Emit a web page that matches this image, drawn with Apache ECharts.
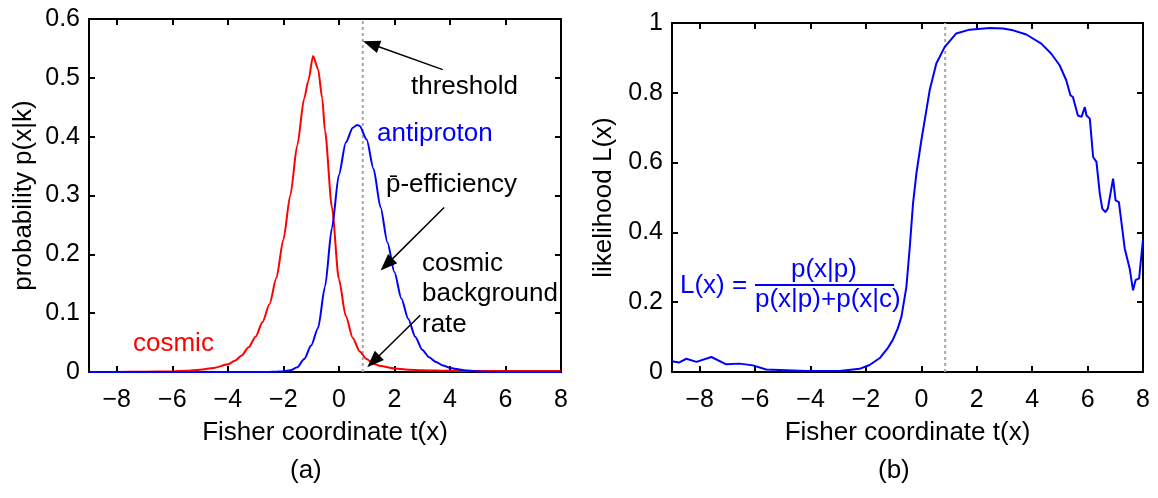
<!DOCTYPE html>
<html>
<head>
<meta charset="utf-8">
<title>Fisher coordinate distributions and likelihood</title>
<script src="https://cdn.jsdelivr.net/npm/echarts@6.0.0/dist/echarts.min.js"></script>
<style>
  html, body { margin: 0; padding: 0; background: #ffffff; }
  #chart { width: 1158px; height: 498px; }
</style>
</head>
<body>
<div id="chart"></div>
<script>
// Panel (a): probability densities p(x|k) versus the Fisher coordinate
const cosmicT = [-9, -8, -7, -6, -5.5, -5, -4.5, -4, -3.75, -3.5, -3.25, -3, -2.75, -2.5, -2.25, -2, -1.75, -1.5, -1.25, -1.1, -0.93, -0.75, -0.6, -0.5, -0.25, 0, 0.25, 0.5, 0.75, 1, 1.25, 1.5, 2, 2.5, 3, 4, 5, 6, 7, 8];
const cosmicP = [0, 0, 0.0005, 0.001, 0.002, 0.004, 0.007, 0.013, 0.019, 0.028, 0.042, 0.06, 0.085, 0.115, 0.16, 0.225, 0.3, 0.385, 0.465, 0.495, 0.537, 0.515, 0.465, 0.41, 0.28, 0.158, 0.095, 0.058, 0.035, 0.022, 0.014, 0.01, 0.006, 0.004, 0.003, 0.002, 0.0015, 0.0015, 0.0015, 0.0015];

const antiT = [-9, -3, -2.5, -2.25, -2, -1.75, -1.5, -1.25, -1, -0.75, -0.5, -0.25, 0, 0.25, 0.5, 0.65, 0.75, 1, 1.25, 1.5, 1.75, 2, 2.25, 2.5, 2.75, 3, 3.25, 3.5, 3.75, 4, 4.5, 5, 5.5, 8];
const antiP = [0, 0, 0, 0.0005, 0.001, 0.003, 0.008, 0.022, 0.045, 0.075, 0.145, 0.245, 0.335, 0.39, 0.415, 0.42, 0.418, 0.395, 0.345, 0.28, 0.22, 0.17, 0.125, 0.09, 0.06, 0.038, 0.025, 0.017, 0.011, 0.007, 0.003, 0.001, 0, 0];

// Panel (b): likelihood L(x) = p(x|p) / (p(x|p) + p(x|c))
const likeT = [-9, -8.75, -8.48, -8.12, -7.58, -7.04, -6.56, -6.08, -5.6, -5.12, -4.15, -2.95, -2.23, -1.87, -1.5, -1.2, -1.03, -0.85, -0.72, -0.54, -0.42, -0.3, -0.18, 0, 0.12, 0.3, 0.54, 0.84, 1.26, 1.74, 2.47, 2.95, 3.31, 3.79, 4.33, 4.69, 4.99, 5.23, 5.38, 5.47, 5.65, 5.78, 5.9, 5.96, 6.08, 6.2, 6.32, 6.44, 6.53, 6.64, 6.73, 6.92, 7.01, 7.13, 7.34, 7.52, 7.64, 7.73, 7.86, 8];
const likeL = [0.031, 0.027, 0.038, 0.029, 0.043, 0.022, 0.024, 0.019, 0.007, 0.006, 0.003, 0.003, 0.009, 0.02, 0.04, 0.07, 0.092, 0.125, 0.158, 0.244, 0.356, 0.483, 0.568, 0.664, 0.721, 0.807, 0.884, 0.931, 0.97, 0.981, 0.986, 0.984, 0.979, 0.967, 0.941, 0.912, 0.879, 0.836, 0.793, 0.788, 0.735, 0.731, 0.759, 0.735, 0.726, 0.616, 0.602, 0.511, 0.468, 0.458, 0.468, 0.554, 0.492, 0.487, 0.354, 0.296, 0.234, 0.263, 0.268, 0.38];

// Selection cut on the Fisher coordinate
const thresholdT = 0.86;

// Axis ranges and tick labels
const xRange = [-9, 8];
const xTicks = [-8, -6, -4, -2, 0, 2, 4, 6, 8];
const probRange = [0, 0.6];
const likeRange = [0, 1];

const FONT = '"Liberation Sans", Arial, sans-serif';
const BLACK = '#000000';
const TXT = '26px ' + FONT;

function pairs(xs, ys) { return xs.map((x, i) => [x, ys[i]]); }
function fmtTick(v) { return v < 0 ? '\u2212' + Math.abs(v) : String(v); }

// bottom axis carries labels and title, top axis only closes the box with inward ticks
function xAxes(gridIndex) {
  const common = {
    type: 'value', gridIndex, min: xRange[0], max: xRange[1],
    axisLine: { show: true, onZero: false, lineStyle: { color: BLACK, width: 2 } },
    splitLine: { show: false }
  };
  return [
    Object.assign({}, common, {
      position: 'bottom',
      name: 'Fisher coordinate t(x)', nameLocation: 'middle', nameGap: 48,
      nameTextStyle: { fontFamily: FONT, fontSize: 26, color: BLACK },
      axisTick: { show: true, inside: true, length: 6, customValues: xTicks, lineStyle: { color: BLACK, width: 2 } },
      axisLabel: { show: true, customValues: xTicks, margin: 16, formatter: fmtTick, fontFamily: FONT, fontSize: 25, color: BLACK }
    }),
    Object.assign({}, common, {
      position: 'top',
      axisTick: { show: true, inside: true, length: 6, customValues: xTicks, lineStyle: { color: BLACK, width: 2 } },
      axisLabel: { show: false }
    })
  ];
}

// left axis carries labels and title, right axis only closes the box with inward ticks
function yAxes(gridIndex, range, interval, title, gap) {
  const common = {
    type: 'value', gridIndex, min: range[0], max: range[1], interval,
    axisLine: { show: true, onZero: false, lineStyle: { color: BLACK, width: 2 } },
    axisTick: { show: true, inside: true, length: 6, lineStyle: { color: BLACK, width: 2 } },
    splitLine: { show: false }
  };
  return [
    Object.assign({}, common, {
      position: 'left',
      name: title, nameLocation: 'middle', nameGap: gap,
      nameTextStyle: { fontFamily: FONT, fontSize: 26, color: BLACK },
      axisLabel: { show: true, margin: 9, fontFamily: FONT, fontSize: 25, color: BLACK,
        formatter: v => String(Math.round(v * 10) / 10) }
    }),
    Object.assign({}, common, { position: 'right', offset: 0, axisLabel: { show: false } })
  ];
}

// Annotation arrows in data coordinates of panel (a)
function arrow(from, to) {
  return [{ coord: from }, { coord: to }];
}

const chart = echarts.init(document.getElementById('chart'), null, { renderer: 'canvas' });

const option = {
  backgroundColor: '#ffffff',
  animation: false,
  grid: [
    { left: 89, top: 19, width: 472, height: 353, containLabel: false },
    { left: 672, top: 23, width: 471, height: 349, containLabel: false }
  ],
  xAxis: [...xAxes(0), ...xAxes(1)],
  yAxis: [...yAxes(0, probRange, 0.1, 'probability p(x|k)', 52), ...yAxes(1, likeRange, 0.2, 'likelihood L(x)', 55)],
  series: [
    {
      name: 'threshold-a', type: 'line', xAxisIndex: 0, yAxisIndex: 0,
      data: [[thresholdT, probRange[0]], [thresholdT, probRange[1]]],
      showSymbol: false, silent: true, z: 1,
      lineStyle: { color: '#a6a6a6', width: 2, type: [3, 3] },
      markLine: {
        silent: true, symbol: ['none', 'triangle'], symbolSize: [13, 17],
        label: { show: false },
        lineStyle: { color: BLACK, width: 1.5, type: 'solid' },
        itemStyle: { color: BLACK },
        data: [
          arrow([3.74, 0.514], [1.16, 0.5574]),
          arrow([3.79, 0.2796], [1.72, 0.1825]),
          arrow([2.93, 0.0964], [1.24, 0.018])
        ]
      }
    },
    {
      name: 'cosmic', type: 'line', xAxisIndex: 0, yAxisIndex: 0,
      data: pairs(cosmicT, cosmicP), showSymbol: false, smooth: 0.25, smoothMonotone: 'x',
      lineStyle: { color: '#ff0000', width: 2 }, itemStyle: { color: '#ff0000' }, z: 3
    },
    {
      name: 'antiproton', type: 'line', xAxisIndex: 0, yAxisIndex: 0,
      data: pairs(antiT, antiP), showSymbol: false, smooth: 0.25, smoothMonotone: 'x',
      lineStyle: { color: '#0000ff', width: 2 }, itemStyle: { color: '#0000ff' }, z: 4
    },
    {
      name: 'threshold-b', type: 'line', xAxisIndex: 2, yAxisIndex: 2,
      data: [[thresholdT, likeRange[0]], [thresholdT, likeRange[1]]],
      showSymbol: false, silent: true, z: 1,
      lineStyle: { color: '#a6a6a6', width: 2, type: [3, 3] }
    },
    {
      name: 'likelihood', type: 'line', xAxisIndex: 2, yAxisIndex: 2,
      data: pairs(likeT, likeL), showSymbol: false,
      lineStyle: { color: '#0000ff', width: 2 }, itemStyle: { color: '#0000ff' }, z: 4
    }
  ],
  graphic: [
    // panel (a) labels
    { type: 'text', left: 411, top: 74, style: { text: 'threshold', font: TXT, fill: BLACK } },
    { type: 'text', left: 377, top: 121, style: { text: 'antiproton', font: TXT, fill: '#0000ff' } },
    { type: 'text', left: 386, top: 172, style: { text: 'p\u0304-efficiency', font: TXT, fill: BLACK } },
    { type: 'text', left: 422, top: 251, style: { text: 'cosmic', font: TXT, fill: BLACK } },
    { type: 'text', left: 422, top: 281, style: { text: 'background', font: TXT, fill: BLACK } },
    { type: 'text', left: 422, top: 312, style: { text: 'rate', font: TXT, fill: BLACK } },
    { type: 'text', left: 133, top: 331, style: { text: 'cosmic', font: TXT, fill: '#ff0000' } },
    // panel (b) formula
    { type: 'text', left: 680, top: 273, style: { text: 'L(x) =', font: TXT, fill: '#0000ff' } },
    { type: 'text', left: 791, top: 257, style: { text: 'p(x|p)', font: TXT, fill: '#0000ff' } },
    { type: 'rect', shape: { x: 755, y: 284, width: 139, height: 2 }, style: { fill: '#0000ff' } },
    { type: 'text', left: 755, top: 287, style: { text: 'p(x|p)+p(x|c)', font: TXT, fill: '#0000ff' } },
    // panel captions
    { type: 'text', left: 290, top: 458, style: { text: '(a)', font: TXT, fill: BLACK } },
    { type: 'text', left: 878, top: 458, style: { text: '(b)', font: TXT, fill: BLACK } }
  ]
};

chart.setOption(option);
</script>
</body>
</html>
